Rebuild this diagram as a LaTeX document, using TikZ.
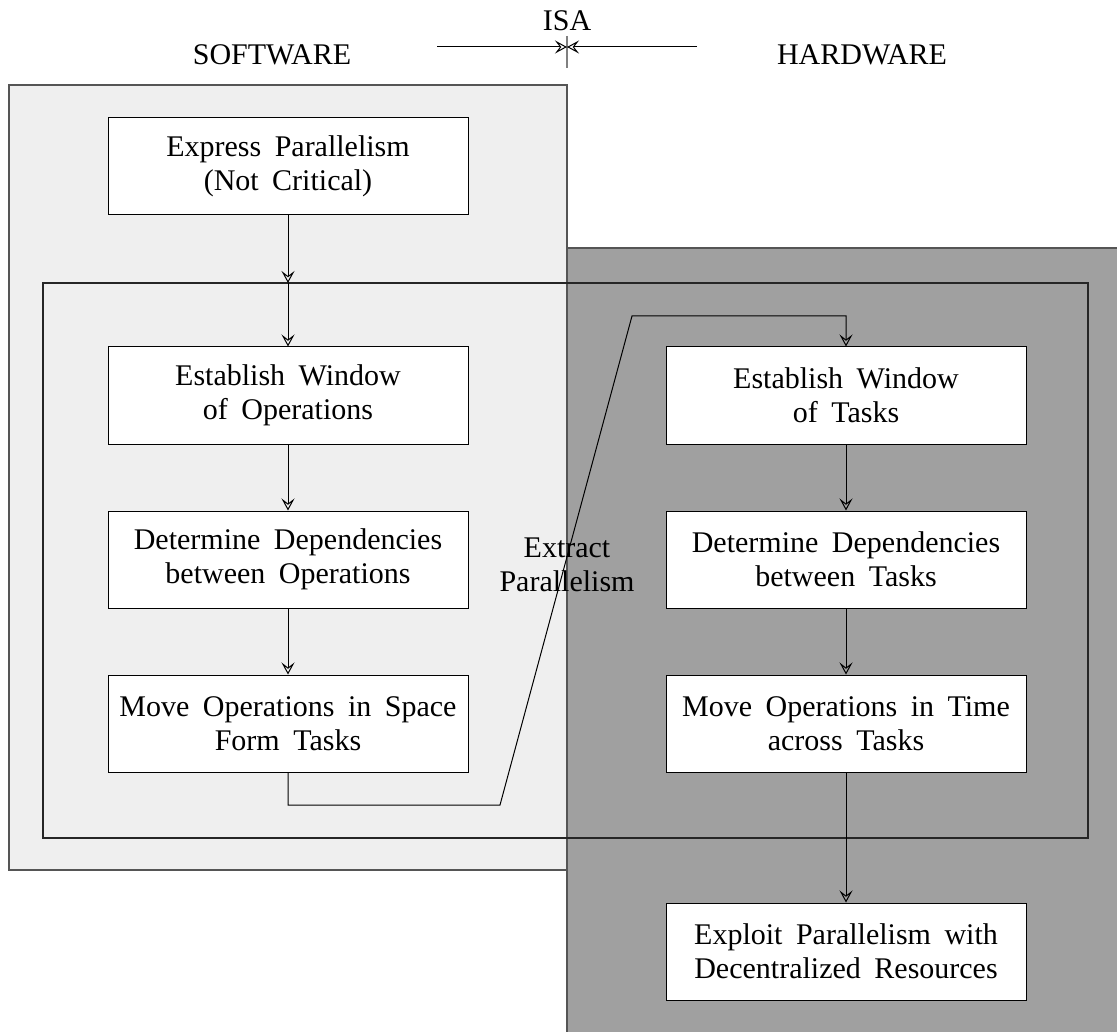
\documentclass[tikz,border=0pt]{standalone}
\usepackage{fontspec}
\setmainfont[WordSpace=1.8]{Liberation Serif}
\usetikzlibrary{arrows.meta}
\definecolor{swfill}{HTML}{EFEFEF}
\definecolor{hwfill}{HTML}{A0A0A0}
\definecolor{edge}{HTML}{555555}
\begin{document}
\begin{tikzpicture}[x=1pt,y=-1pt,
  stepbox/.style={draw=black,fill=white,line width=1pt,minimum width=360pt,minimum height=97pt,align=center,font=\fontsize{30}{34}\selectfont,inner sep=0pt},
  lbl/.style={font=\fontsize{30}{34}\selectfont,align=center,inner sep=0pt},
  conn/.style={line width=1pt,draw=black},
  arr/.style={conn,-{Stealth[open,length=12pt,width=13pt,inset=5pt]}}]
\useasboundingbox (0,0) rectangle (1117,1032);
% regions
\draw[fill=swfill,draw=edge,line width=1.2pt] (9,85) rectangle (567,870);
\draw[fill=hwfill,draw=edge,line width=1.2pt] (567,248) rectangle (1125,1040);
\draw[draw=black!85,line width=1.2pt] (43,283) rectangle (1088,838);
% labels
\node[lbl] (isa) at (567,21) {ISA};
\node[lbl] (sw) at (272,55) {SOFTWARE};
\node[lbl] (hw) at (862,55) {HARDWARE};
\coordinate (isaL) at (437,47);
\coordinate (isaR) at (697,47);
\coordinate (isaM) at (567,47);
\draw[draw=gray,line width=1.2pt] (567,36) -- (567,68);
\draw[arr] (isaL) -- (isaM);
\draw[arr] (isaR) -- (isaM);
% boxes
\node[stepbox] (ep) at (288,166.5) {Express Parallelism\\(Not Critical)};
\node[stepbox] (ewo) at (288,395.5) {Establish Window\\of Operations};
\node[stepbox] (ddo) at (288,559.5) {Determine Dependencies\\between Operations};
\node[stepbox] (mos) at (288,723.5) {Move Operations in Space\\Form Tasks};
\node[stepbox] (ewt) at (846,395.5) {Establish Window\\of Tasks};
\node[stepbox] (ddt) at (846,559.5) {Determine Dependencies\\between Tasks};
\node[stepbox] (mot) at (846,723.5) {Move Operations in Time\\across Tasks};
\node[stepbox] (exp) at (846,951.5) {Exploit Parallelism with\\Decentralized Resources};
\node[lbl] (xp) at (567,565) {Extract\\Parallelism};
% connectors
\coordinate (inTop) at (288,283);
\draw[arr] (ep.south) -- (inTop);
\draw[arr] (inTop) -- (ewo.north);
\draw[arr] (ewo.south) -- (ddo.north);
\draw[arr] (ddo.south) -- (mos.north);
\draw[arr] (ewt.south) -- (ddt.north);
\draw[arr] (ddt.south) -- (mot.north);
\draw[arr] (mot.south) -- (exp.north);
\coordinate (c1) at (288,805);
\coordinate (c2) at (500,805);
\coordinate (c3) at (632,316);
\coordinate (c4) at (846,316);
\draw[arr] (mos.south) -- (c1) -- (c2) -- (c3) -- (c4) -- (ewt.north);
\end{tikzpicture}
\end{document}
